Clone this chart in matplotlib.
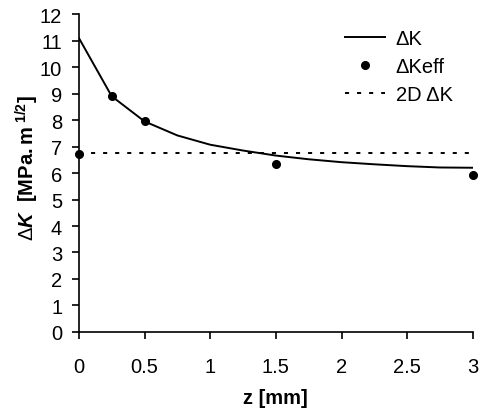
import matplotlib.pyplot as plt

plt.rcParams['font.family'] = ['Liberation Sans', 'DejaVu Sans']
plt.rcParams['mathtext.fontset'] = 'custom'
plt.rcParams['mathtext.rm'] = 'Liberation Sans'
plt.rcParams['mathtext.bf'] = 'Liberation Sans:bold'
plt.rcParams['mathtext.it'] = 'Liberation Sans:italic'
plt.rcParams['mathtext.bfit'] = 'Liberation Sans:bold:italic'

# data
z_dk = [0, 0.25, 0.5, 0.75, 1.0, 1.25, 1.5, 1.75, 2.0, 2.25, 2.5, 2.75, 3.0]
dk = [11.1, 8.9, 7.95, 7.42, 7.07, 6.85, 6.66, 6.52, 6.41, 6.33, 6.26, 6.21, 6.2]
z_eff = [0, 0.25, 0.5, 1.5, 3.0]
dk_eff = [6.72, 8.9, 7.95, 6.33, 5.92]
z_2d = [0, 3.0]
dk_2d = [6.75, 6.75]

fs = 14.5

fig = plt.figure(figsize=(4.81, 4.10), dpi=100)
ax = fig.add_axes([0.164, 0.188, 0.819, 0.775])

ax.plot(z_dk, dk, color='black', lw=1.4, label='ΔK')
ax.plot(z_eff, dk_eff, 'o', color='black', ms=5.5, clip_on=False, zorder=5, label='ΔKeff')
ax.plot(z_2d, dk_2d, color='black', lw=1.4, dashes=(2.1, 4.1), label='2D ΔK')

ax.set_xlim(0, 3)
ax.set_ylim(0, 12)
ax.set_xticks([0, 0.5, 1, 1.5, 2, 2.5, 3])
ax.set_xticklabels(['0', '0.5', '1', '1.5', '2', '2.5', '3'])
ax.set_yticks(range(0, 13))

for s in ['top', 'right']:
    ax.spines[s].set_visible(False)
for s in ['left', 'bottom']:
    ax.spines[s].set_linewidth(1.2)
ax.tick_params(direction='out', length=5, width=1.2, labelsize=fs)
ax.tick_params(axis='y', pad=7)
ax.tick_params(axis='x', pad=13)

ax.set_xlabel('z [mm]', fontsize=fs, fontweight='bold')
ax.xaxis.set_label_coords(0.5, -0.176)
ax.set_ylabel(r'$\Delta\mathbfit{K}\ \ \mathbf{[MPa{.}m}^{\ \mathbf{1/2}}\mathbf{]}$', fontsize=fs)
ax.yaxis.set_label_coords(-0.097, 0.519)

ax.legend(loc='upper right', frameon=False, fontsize=fs, handlelength=1.95,
          handletextpad=0.55, labelspacing=0.43, borderpad=0, borderaxespad=0,
          bbox_to_anchor=(0.949, 0.952))

fig.savefig('out.png', dpi=100)
